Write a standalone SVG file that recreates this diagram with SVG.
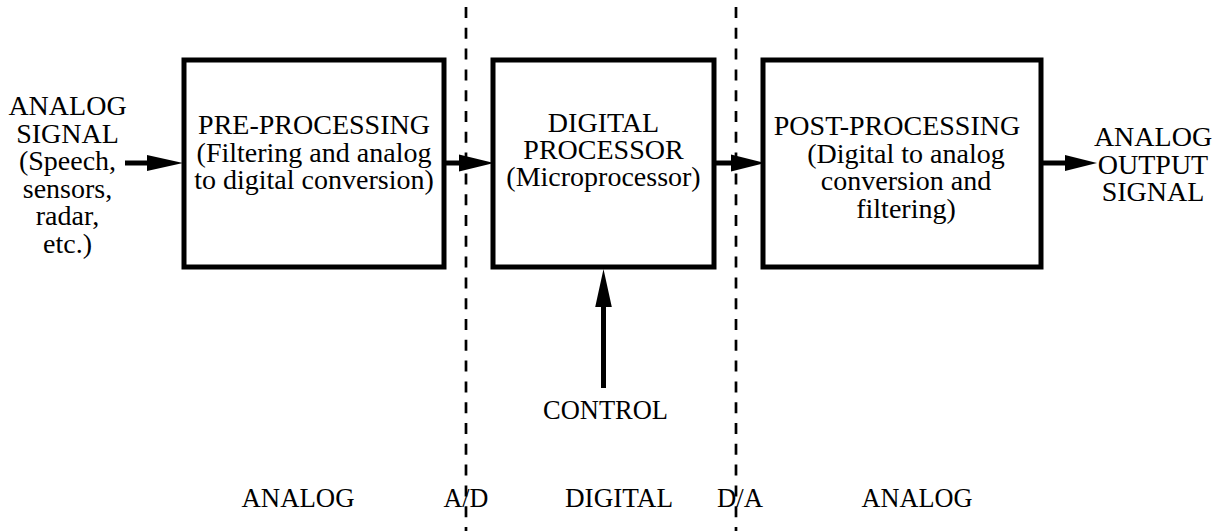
<svg xmlns="http://www.w3.org/2000/svg" width="1219" height="531" viewBox="0 0 1219 531">
<style>
  .box { fill: #fff; stroke: #000; stroke-width: 5; }
  .t { font-family: "Liberation Serif", serif; font-size: 28px; fill: #000; text-anchor: middle; }
  .wire { stroke: #000; stroke-width: 5; fill: none; }
  .dash { stroke: #000; stroke-width: 2.7; stroke-dasharray: 11 9.8; fill: none; }
  .head { fill: #000; }
</style>
<rect width="1219" height="531" fill="#fff"/>
<g id="dividers">
  <line class="dash" x1="466" y1="7" x2="466" y2="531"/>
  <line class="dash" x1="736" y1="7" x2="736" y2="531"/>
</g>
<g id="connectors">
  <line class="wire" x1="125" y1="163" x2="150" y2="163"/>
  <polygon class="head" points="147,155 183,163 147,171"/>
  <line class="wire" x1="444" y1="163" x2="462" y2="163"/>
  <polygon class="head" points="459,154.5 494,163 459,171.5"/>
  <line class="wire" x1="714" y1="163" x2="734" y2="163"/>
  <polygon class="head" points="731,154.5 765,163 731,171.5"/>
  <line class="wire" x1="1041" y1="163" x2="1068" y2="163"/>
  <polygon class="head" points="1065,155 1097,163 1065,171"/>
  <line class="wire" x1="603.5" y1="388" x2="603.5" y2="303"/>
  <polygon class="head" points="595.2,307 603.5,269 611.8,307"/>
</g>
<g id="input-label">
  <text class="t" x="67.5" y="115">ANALOG</text>
  <text class="t" x="67.5" y="142.6">SIGNAL</text>
  <text class="t" x="67.5" y="170.2">(Speech,</text>
  <text class="t" x="67.5" y="197.8">sensors,</text>
  <text class="t" x="67.5" y="225.4">radar,</text>
  <text class="t" x="67.5" y="253">etc.)</text>
</g>
<g id="pre-processing">
  <rect class="box" x="184" y="60" width="260" height="207"/>
  <text class="t" x="314" y="134">PRE-PROCESSING</text>
  <text class="t" x="314" y="161.5">(Filtering and analog</text>
  <text class="t" x="314" y="189">to digital conversion)</text>
</g>
<g id="digital-processor">
  <rect class="box" x="493" y="60" width="221" height="207"/>
  <text class="t" x="603.5" y="132">DIGITAL</text>
  <text class="t" x="603.5" y="159">PROCESSOR</text>
  <text class="t" x="603.5" y="186">(Microprocessor)</text>
</g>
<g id="post-processing">
  <rect class="box" x="763" y="60" width="278" height="207"/>
  <text class="t" x="897" y="135">POST-PROCESSING</text>
  <text class="t" x="906" y="162.5">(Digital to analog</text>
  <text class="t" x="906" y="190">conversion and</text>
  <text class="t" x="906" y="217.5">filtering)</text>
</g>
<g id="output-label">
  <text class="t" x="1153" y="146">ANALOG</text>
  <text class="t" x="1153" y="173.5">OUTPUT</text>
  <text class="t" x="1153" y="201">SIGNAL</text>
</g>
<g id="control">
  <text class="t" x="605.5" y="419" textLength="125" lengthAdjust="spacingAndGlyphs">CONTROL</text>
</g>
<g id="region-labels">
  <text class="t" x="298" y="507" textLength="113" lengthAdjust="spacingAndGlyphs">ANALOG</text>
  <text class="t" x="466" y="507" textLength="45" lengthAdjust="spacingAndGlyphs">A/D</text>
  <text class="t" x="619" y="507" textLength="108" lengthAdjust="spacingAndGlyphs">DIGITAL</text>
  <text class="t" x="740" y="507" textLength="46" lengthAdjust="spacingAndGlyphs">D/A</text>
  <text class="t" x="917" y="507" textLength="111" lengthAdjust="spacingAndGlyphs">ANALOG</text>
</g>
</svg>
